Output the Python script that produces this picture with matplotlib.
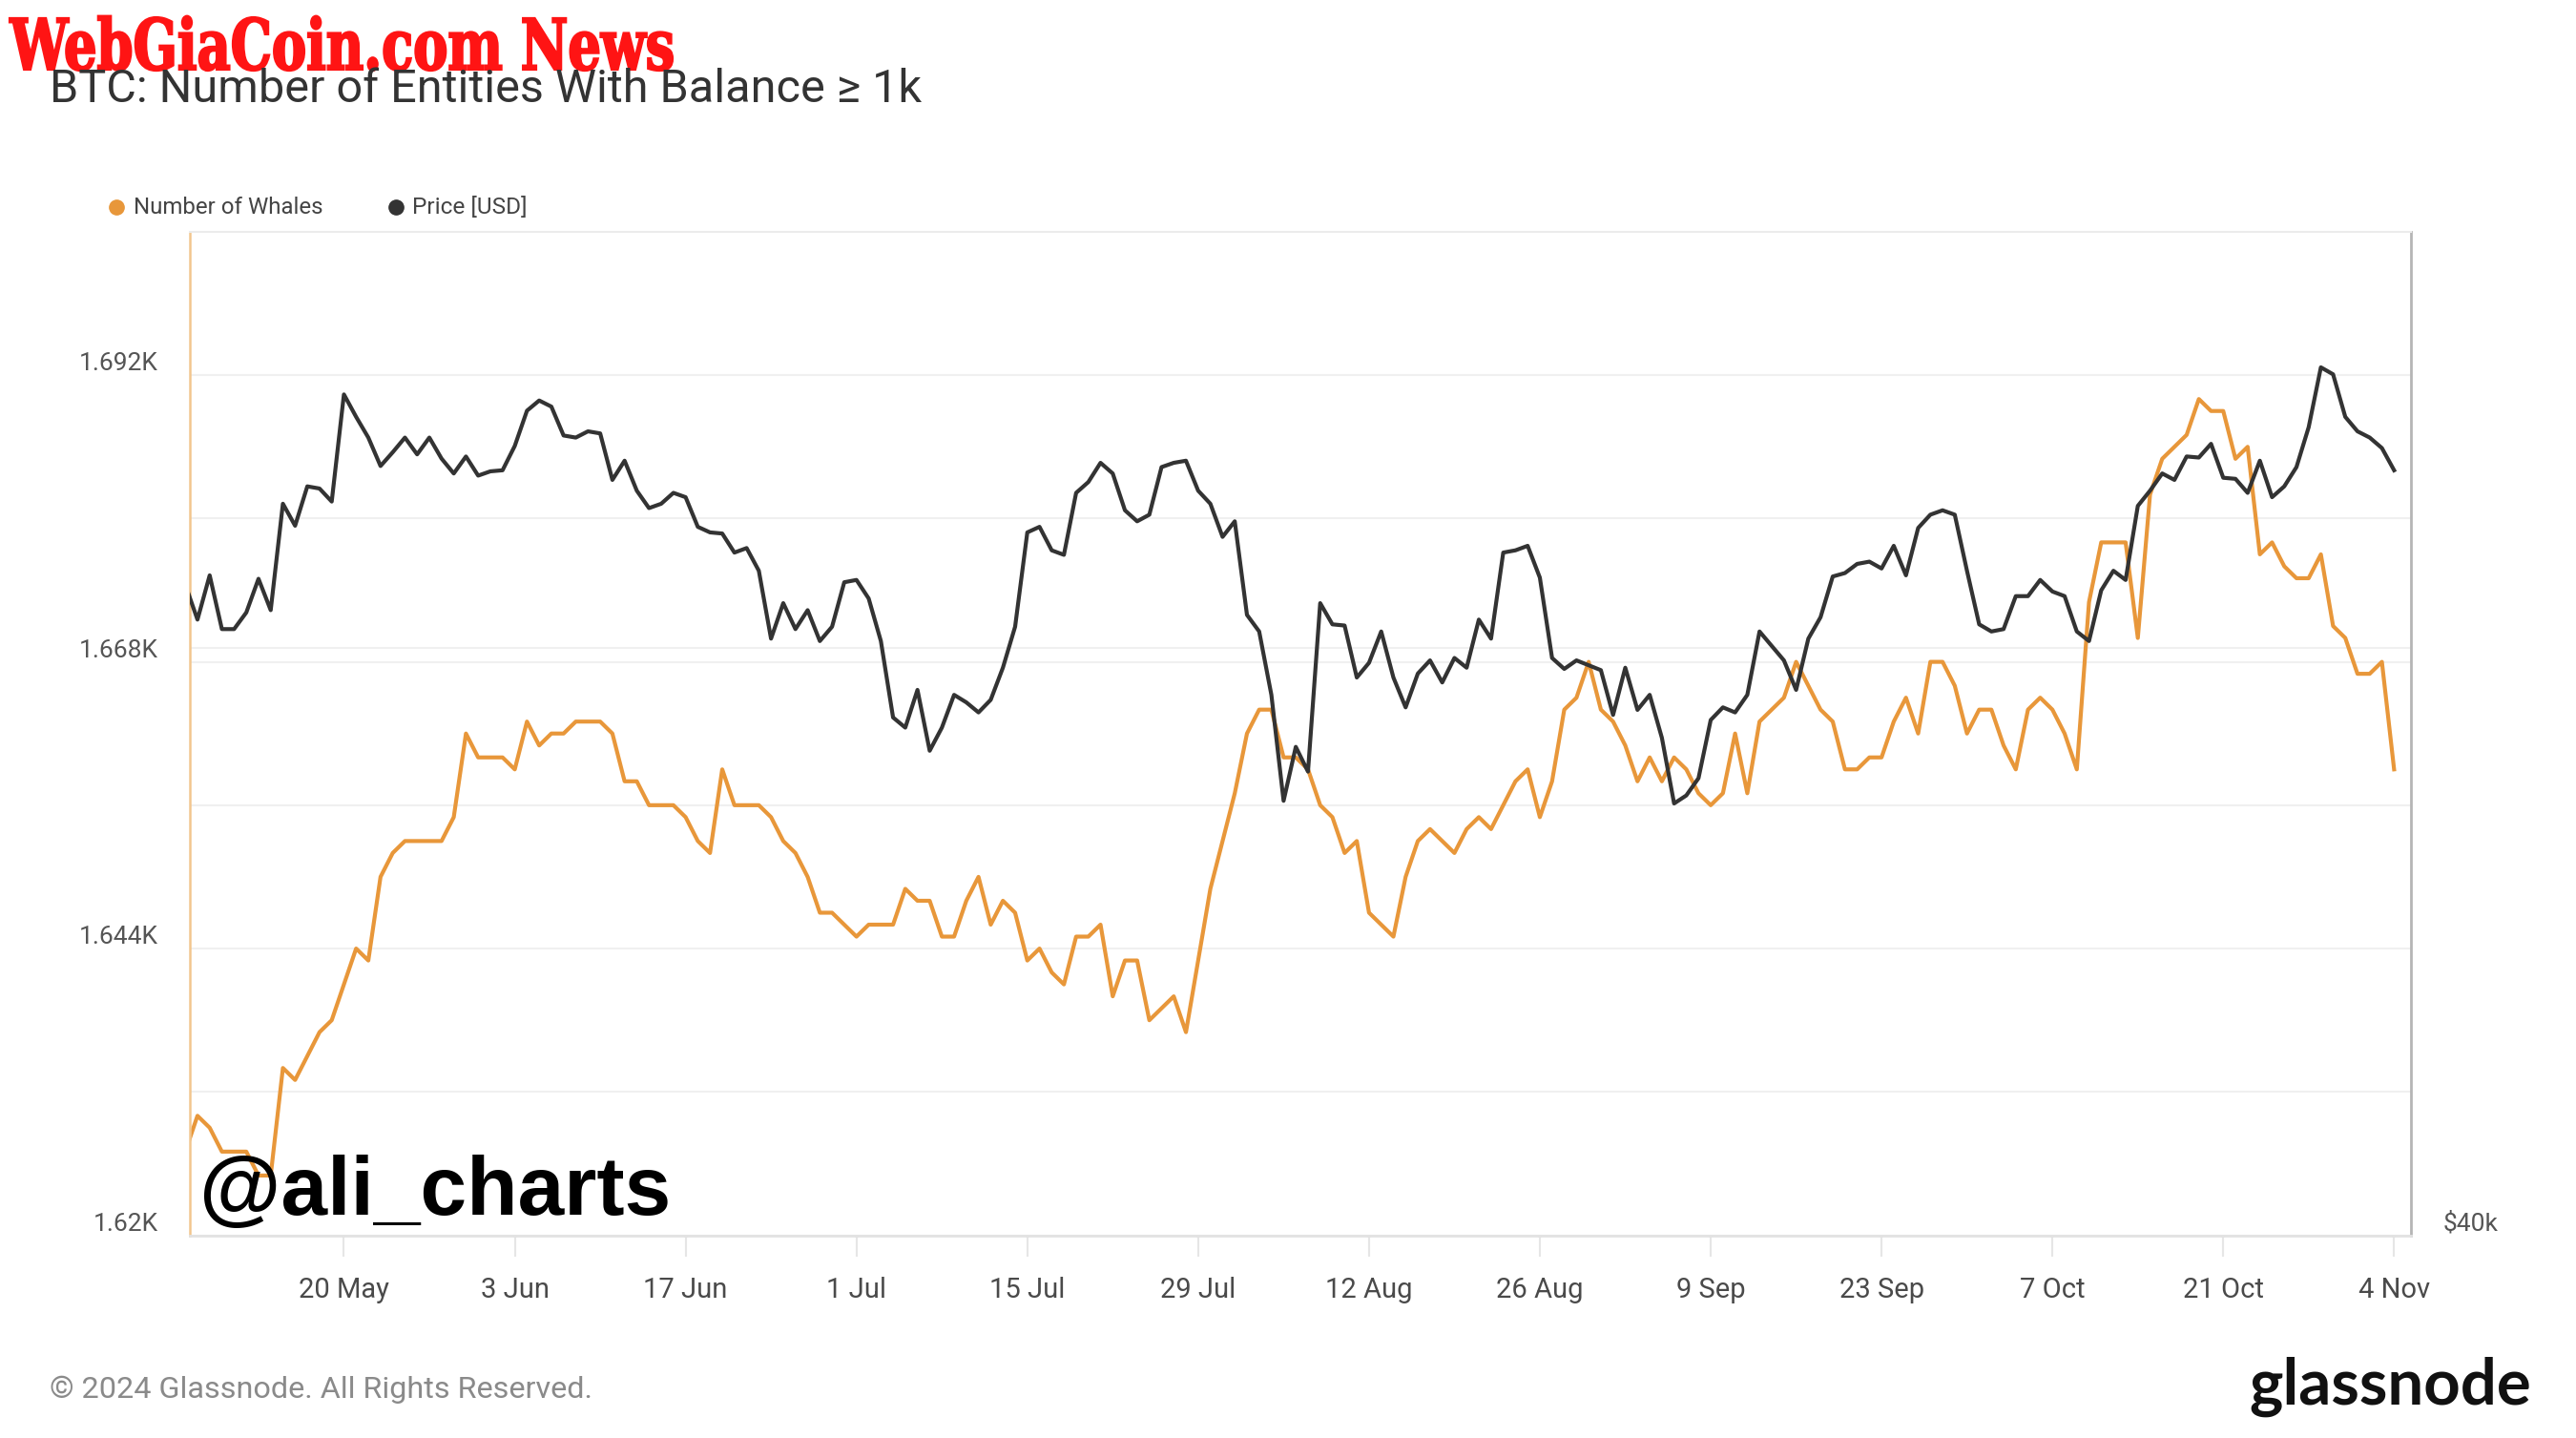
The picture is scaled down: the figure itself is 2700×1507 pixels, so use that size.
import numpy as np
import pandas as pd
import matplotlib
matplotlib.use('Agg')
from matplotlib import pyplot as plt
import matplotlib.dates as mdates
import matplotlib.transforms as mtransforms
from matplotlib.lines import Line2D
from matplotlib.patches import PathPatch
from matplotlib.textpath import TextPath
from matplotlib.font_manager import FontProperties
from matplotlib.ticker import FixedLocator, FixedFormatter, NullLocator

plt.rcParams['font.family'] = ['Roboto', 'DejaVu Sans']

# daily values, 7 May 2024 .. 4 Nov 2024
dates = pd.date_range('2024-05-07', '2024-11-04', freq='D')

whales = [
    # May 7-31
    1627, 1630, 1629, 1627, 1627, 1627, 1625, 1625, 1634, 1633, 1635, 1637, 1638,
    1641, 1644, 1643, 1650, 1652, 1653, 1653, 1653, 1653, 1655, 1662, 1660,
    # Jun
    1660, 1660, 1659, 1663, 1661, 1662, 1662, 1663, 1663, 1663, 1662, 1658, 1658,
    1656, 1656, 1656, 1655, 1653, 1652, 1659, 1656, 1656, 1656, 1655, 1653, 1652,
    1650, 1647, 1647, 1646,
    # Jul
    1645, 1646, 1646, 1646, 1649, 1648, 1648, 1645, 1645, 1648, 1650, 1646, 1648,
    1647, 1643, 1644, 1642, 1641, 1645, 1645, 1646, 1640, 1643, 1643, 1638, 1639,
    1640, 1637, 1643, 1649, 1653,
    # Aug
    1657, 1662, 1664, 1664, 1660, 1660, 1659, 1656, 1655, 1652, 1653, 1647, 1646,
    1645, 1650, 1653, 1654, 1653, 1652, 1654, 1655, 1654, 1656, 1658, 1659, 1655,
    1658, 1664, 1665, 1668, 1664,
    # Sep
    1663, 1661, 1658, 1660, 1658, 1660, 1659, 1657, 1656, 1657, 1662, 1657, 1663,
    1664, 1665, 1668, 1666, 1664, 1663, 1659, 1659, 1660, 1660, 1663, 1665, 1662,
    1668, 1668, 1666, 1662,
    # Oct
    1664, 1664, 1661, 1659, 1664, 1665, 1664, 1662, 1659, 1673, 1678, 1678, 1678,
    1670, 1682, 1685, 1686, 1687, 1690, 1689, 1689, 1685, 1686, 1677, 1678, 1676,
    1675, 1675, 1677, 1671, 1670,
    # Nov
    1667, 1667, 1668, 1659,
]

# BTC price, thousands of USD
price_k = [
    # May 7-31
    62.7, 61.2, 63.1, 60.8, 60.8, 61.5, 62.95, 61.6, 66.3, 65.3, 67.1, 67.0, 66.4,
    71.5, 70.4, 69.4, 68.05, 68.7, 69.4, 68.6, 69.4, 68.4, 67.7, 68.5, 67.6,
    # Jun
    67.8, 67.85, 69.0, 70.7, 71.2, 70.9, 69.5, 69.4, 69.7, 69.6, 67.4, 68.3, 66.9,
    66.1, 66.3, 66.8, 66.6, 65.25, 65.0, 64.95, 64.1, 64.3, 63.3, 60.4, 61.9, 60.8,
    61.6, 60.3, 60.9, 62.8,
    # Jul
    62.9, 62.1, 60.3, 57.2, 56.8, 58.3, 55.9, 56.8, 58.1, 57.8, 57.4, 57.9, 59.2,
    60.9, 65.0, 65.25, 64.2, 64.0, 66.8, 67.3, 68.2, 67.7, 66.0, 65.5, 65.8, 68.0,
    68.2, 68.3, 66.9, 66.3, 64.8,
    # Aug
    65.5, 61.4, 60.7, 58.1, 54.0, 56.05, 55.1, 61.9, 61.0, 60.95, 58.8, 59.4, 60.7,
    58.8, 57.6, 58.96, 59.5, 58.6, 59.6, 59.2, 61.2, 60.4, 64.1, 64.2, 64.4, 63.0,
    59.6, 59.15, 59.5, 59.3, 59.1,
    # Sep
    57.3, 59.2, 57.5, 58.1, 56.4, 53.9, 54.2, 54.85, 57.1, 57.6, 57.4, 58.1, 60.7,
    60.1, 59.5, 58.3, 60.4, 61.3, 63.05, 63.2, 63.6, 63.7, 63.4, 64.4, 63.1, 65.2,
    65.8, 66.0, 65.8, 63.3,
    # Oct
    61.0, 60.7, 60.8, 62.2, 62.2, 62.9, 62.4, 62.2, 60.7, 60.3, 62.45, 63.3, 62.9,
    66.2, 66.9, 67.7, 67.4, 68.5, 68.45, 69.1, 67.5, 67.45, 66.8, 68.3, 66.6, 67.1,
    68.0, 69.9, 72.85, 72.5, 70.4,
    # Nov
    69.7, 69.4, 68.9, 67.85,
]

whale_ticks = [1620, 1644, 1668, 1692]
whale_labels = ['1.62K', '1.644K', '1.668K', '1.692K']
whale_minor = [1632, 1656, 1680]
price_ticks = [40, 60]
price_labels = ['\\$40k', '']
tick_dates = pd.date_range('2024-05-20', '2024-11-04', freq='14D')

ORANGE = '#E8973A'
BLACK = '#333333'
GRID = '#f0f0f0'

fig = plt.figure(figsize=(27, 15.07), dpi=100)
ax = fig.add_axes([0.0737, 0.141, 0.8622, 0.6978])
ax2 = ax.twinx()

# whales (left axis)
ax.plot(dates, whales, color=ORANGE, lw=3.0, zorder=3)
ax.set_ylim(1620, 1704)
ax.yaxis.set_major_locator(FixedLocator(whale_ticks))
ax.yaxis.set_major_formatter(FixedFormatter(whale_labels))
ax.yaxis.set_minor_locator(FixedLocator(whale_minor))
ax.grid(axis='y', which='both', color=GRID, lw=1.5, zorder=0)
ax.set_axisbelow(True)
ax.tick_params(axis='y', which='both', length=0, pad=24, labelsize=19,
               labelcolor='#555555')
for t in ax.get_yticklabels():
    t.set_verticalalignment('bottom')

# price (right axis, log)
ax2.set_yscale('log')
ax2.set_ylim(40, 80)
ax2.plot(dates, price_k, color=BLACK, lw=3.0, zorder=3)
ax2.yaxis.set_major_locator(FixedLocator(price_ticks))
ax2.yaxis.set_major_formatter(FixedFormatter(price_labels))
ax2.yaxis.set_minor_locator(NullLocator())
ax2.tick_params(axis='y', which='both', length=0, pad=24, labelsize=19,
                labelcolor='#555555')
for t in ax2.get_yticklabels():
    t.set_verticalalignment('bottom')

# price grid line drawn in the lower axes so it stays under both lines
tr = mtransforms.blended_transform_factory(ax.transAxes, ax2.transData)
for p in price_ticks[1:]:
    ax.add_line(Line2D([0, 1], [p, p], transform=tr, color=GRID, lw=1.5, zorder=0))

# x axis
ax.set_xlim(pd.Timestamp('2024-05-07 09:00'), pd.Timestamp('2024-11-05 09:00'))
ax.xaxis.set_major_locator(FixedLocator(mdates.date2num(tick_dates)))
ax.xaxis.set_major_formatter(mdates.DateFormatter('%-d %b'))
ax.tick_params(axis='x', length=16, width=1.5, color='#e6e6e6', pad=15,
               labelsize=21, labelcolor='#4a4a4a')

for s in ax.spines.values():
    s.set_visible(False)
ax2.spines['left'].set_color('#f2c68e')
ax2.spines['left'].set_linewidth(1.8)
ax2.spines['right'].set_color('#b5b5b5')
ax2.spines['right'].set_linewidth(2)
ax2.spines['top'].set_color('#ececec')
ax2.spines['top'].set_linewidth(1.5)
ax2.spines['bottom'].set_color('#e2e2e2')
ax2.spines['bottom'].set_linewidth(2)

# legend
fig.add_artist(Line2D([0.0453], [0.856], marker='o', color=ORANGE, markersize=11,
                      linestyle='', transform=fig.transFigure))
fig.text(0.0517, 0.856, 'Number of Whales', va='center', fontsize=17.3, color='#444444')
fig.add_artist(Line2D([0.1537], [0.856], marker='o', color=BLACK, markersize=11,
                      linestyle='', transform=fig.transFigure))
fig.text(0.1600, 0.856, 'Price [USD]', va='center', fontsize=17.6, color='#444444')

# title
fig.text(0.0193, 0.9287, 'BTC: Number of Entities With Balance \u2265 1k',
         fontsize=35, color='#333333', va='baseline')

# red site watermark, squeezed horizontally like the condensed slab face
fp = FontProperties(family='DejaVu Serif', weight='bold')
tp = TextPath((0, 0), 'WebGiaCoin.com News', size=100, prop=fp)
ext = tp.get_extents()
sx = 695 / ext.width
sy = 54 / 72.9
wm = mtransforms.Affine2D().translate(-ext.x0, 0).scale(sx, sy).translate(10, 1507 - 73)
fig.add_artist(PathPatch(tp, facecolor='#ff1414', edgecolor='#ff1414', lw=1.6,
                         transform=wm))

fig.text(0.0775, 0.155, '@ali_charts', fontsize=63, color='black',
         fontweight='bold', family='Liberation Sans', va='baseline')
fig.text(0.0193, 0.0333, '\u00a9 2024 Glassnode. All Rights Reserved.',
         fontsize=23.3, color='#8a8a8a', va='center')
fig.text(0.9828, 0.0233, 'glassnode', fontsize=48.3, color='#111111',
         fontweight='bold', family='Lato', ha='right', va='baseline')

fig.savefig('out.png', dpi=100)
